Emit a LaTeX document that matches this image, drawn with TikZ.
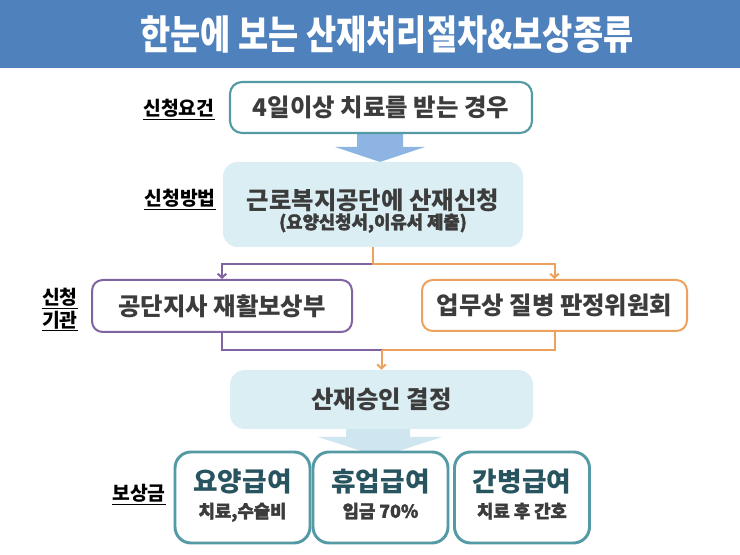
\documentclass[tikz,border=0pt]{standalone}
\usepackage{fontspec}
\setmainfont{Noto Sans CJK KR}
\newfontfamily\heavyfont{Noto Sans CJK KR}[BoldFeatures={FakeBold=2}]
\usepackage{graphicx}
\usetikzlibrary{positioning,arrows.meta}

\definecolor{titleblue}{RGB}{79,129,189}
\definecolor{boxteal}{RGB}{84,154,164}
\definecolor{paleblue}{RGB}{218,238,243}
\definecolor{arrowblue}{RGB}{141,180,226}
\definecolor{lineviolet}{RGB}{128,100,162}
\definecolor{lineorange}{RGB}{236,162,92}
\definecolor{txtgray}{RGB}{60,60,60}
\definecolor{txtteal}{RGB}{40,84,96}

\newcommand{\bigtxt}{\bfseries\fontsize{18.3}{19}\selectfont}
\newcommand{\subtxt}{\heavyfont\bfseries\fontsize{13.3}{15}\selectfont}

\tikzset{
  tealbox/.style={draw=boxteal, line width=1.6pt, fill=white, rounded corners=9pt, inner sep=0pt, text=txtgray},
  palebox/.style={fill=paleblue, rounded corners=11pt, inner sep=0pt, text=txtgray},
  violetbox/.style={draw=lineviolet, line width=1.5pt, fill=white, rounded corners=8pt, inner sep=0pt, text=txtgray},
  orangebox/.style={draw=lineorange, line width=1.5pt, fill=white, rounded corners=8pt, inner sep=0pt, text=txtgray},
  paybox/.style={draw=boxteal, line width=2.2pt, fill=white, rounded corners=12pt, inner sep=0pt,
    minimum width=101.25pt, minimum height=68.25pt, align=center, font=\bfseries\fontsize{20}{22.5}\selectfont},
  sidelabel/.style={text=black, font=\bfseries\fontsize{14.5}{15}\selectfont, align=center, inner sep=0pt},
  violetline/.style={draw=lineviolet, line width=1.5pt},
  orangeline/.style={draw=lineorange, line width=1.5pt},
  tip/.style={-{Straight Barb[length=3pt,width=6.5pt]}},
}

\begin{document}
\begin{tikzpicture}[x=0.75pt,y=0.75pt,yscale=-1,xscale=1]
\path[use as bounding box] (0,0) rectangle (740,555);

% title bar
\fill[titleblue] (0,0) rectangle (740,68);
\node[text=white, inner sep=0pt] (title) at (387,35)
  {\scalebox{0.82}[1]{\bfseries\fontsize{30}{32}\selectfont 한눈에 보는 산재처리절차\&보상종류}};

% block arrow under the first box
\fill[arrowblue] (357,132) -- (403,132) -- (403,147) -- (425,147) -- (380,162) -- (335,147) -- (357,147) -- cycle;
% block arrow under the decision box
\fill[paleblue!85!arrowblue] (346,428) -- (410,428) -- (410,437) -- (442,437) -- (380,457) -- (318,437) -- (346,437) -- cycle;

% boxes
\node[tealbox, minimum width=226.5pt, minimum height=38.25pt, font=\bigtxt] (require) at (381,107.5) {4일이상 치료를 받는 경우};
\node[palebox, minimum width=225pt, minimum height=63.75pt, align=center, font=\bfseries\fontsize{18.3}{18.75}\selectfont] (apply) at (373,204.5)
  {\rule{0pt}{25pt}근로복지공단에 산재신청\\[-4.5pt]{\subtxt (요양신청서,이유서 제출)}};
\node[violetbox, minimum width=195pt, minimum height=39pt, font=\bigtxt] (branch) at (222,306) {공단지사 재활보상부};
\node[orangebox, minimum width=198.75pt, minimum height=38.25pt, font=\bigtxt] (committee) at (554.5,305.5) {업무상 질병 판정위원회};
\node[palebox, minimum width=227.25pt, minimum height=44.25pt, font=\bigtxt] (decision) at (381.5,399.5) {산재승인 결정};

\node[paybox] (care) at (242.5,497.5)
  {{\color{txtteal}요양급여}\\[-3pt]{\color{txtgray}\subtxt 치료,수술비\rule[-6pt]{0pt}{6pt}}};
\node[paybox] (leave) at (380.5,497.5)
  {{\color{txtteal}휴업급여}\\[-3pt]{\color{txtgray}\subtxt 임금 70\%\rule[-6pt]{0pt}{6pt}}};
\node[paybox] (nursing) at (522,497.5)
  {{\color{txtteal}간병급여}\\[-3pt]{\color{txtgray}\subtxt 치료 후 간호\rule[-6pt]{0pt}{6pt}}};

% side labels
\node[sidelabel] (lblrequire) at (179,110) {\underline{신청요건}};
\node[sidelabel] (lblapply) at (180,200) {\underline{신청방법}};
\node[sidelabel] (lbloffice) at (60,310) {\underline{신청}\\\underline{기관}};
\node[sidelabel] (lblpay) at (139,495) {\underline{보상금}};

% connectors
\path (decision.north) ++(0,-20) coordinate (merge);
\draw[violetline, tip] (apply.south) -- ++(0,17) -| (branch.north);
\draw[orangeline, tip] (apply.south) -- ++(0,17) -| (committee.north);
\draw[violetline] (branch.south) |- (merge);
\draw[orangeline] (committee.south) |- (merge);
\draw[orangeline, tip] (merge) -- (decision.north);

\end{tikzpicture}
\end{document}
